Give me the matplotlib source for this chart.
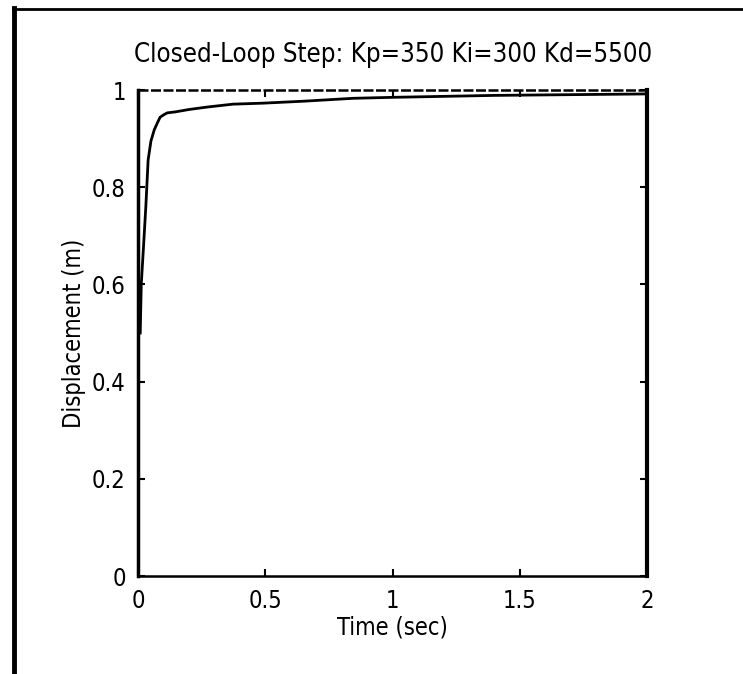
import matplotlib
matplotlib.use("Agg")
import matplotlib.pyplot as plt
from matplotlib.lines import Line2D
from matplotlib import font_manager

# Data
time_s = [0.008, 0.012, 0.02, 0.03, 0.039, 0.05, 0.063, 0.075, 0.086, 0.1, 0.114,
          0.145, 0.2, 0.271, 0.373, 0.49, 0.648, 0.845, 1.0, 1.2, 1.4, 1.6, 1.8, 2.0]
displacement = [0.50, 0.60, 0.67, 0.76, 0.856, 0.895, 0.918, 0.932, 0.944, 0.949, 0.953,
                0.955, 0.960, 0.965, 0.971, 0.973, 0.977, 0.983, 0.985, 0.987, 0.989, 0.990, 0.991, 0.992]
setpoint_t = [0.0, 2.0]
setpoint_y = [1.0, 1.0]
xticks = [0, 0.5, 1, 1.5, 2]
xtick_labels = ["0", "0.5", "1", "1.5", "2"]
yticks = [0, 0.2, 0.4, 0.6, 0.8, 1]
ytick_labels = ["0", "0.2", "0.4", "0.6", "0.8", "1"]
title = "Closed-Loop Step: Kp=350 Ki=300 Kd=5500"
xlabel = "Time (sec)"
ylabel = "Displacement (m)"

names = {f.name for f in font_manager.fontManager.ttflist}
fam = [n for n in ['Liberation Sans Narrow', 'DejaVu Sans Condensed', 'DejaVu Sans'] if n in names]
plt.rcParams['font.family'] = fam + ['DejaVu Sans']
plt.rcParams['font.stretch'] = 'condensed'

fig = plt.figure(figsize=(7.43, 6.74), dpi=100)
ax = fig.add_axes([0.186, 0.1454, 0.685, 0.721])

ax.plot(time_s, displacement, color="black", linewidth=2.0, solid_joinstyle="miter")
ax.plot(setpoint_t, setpoint_y, color="black", linewidth=1.8, linestyle=(0, (4, 1.0)),
        clip_on=False, zorder=5)

ax.set_xlim(0, 2)
ax.set_ylim(0, 1)
ax.set_xticks(xticks)
ax.set_xticklabels(xtick_labels)
ax.set_yticks(yticks)
ax.set_yticklabels(ytick_labels)
ax.tick_params(direction="in", length=5, width=1.5, top=True, right=True,
               labelsize=17, pad=9)
ax.spines['top'].set_visible(False)
ax.spines['left'].set_linewidth(2.5)
ax.spines['right'].set_linewidth(3.0)
ax.spines['bottom'].set_linewidth(1.8)

ax.set_title(title, fontsize=18.5, pad=20)
ax.set_xlabel(xlabel, fontsize=17, labelpad=2)
ax.set_ylabel(ylabel, fontsize=17, labelpad=4)

# outer frame lines (left and top)
fig.add_artist(Line2D([0.0195, 0.0195], [0.0, 0.988], transform=fig.transFigure,
                      color="black", linewidth=3.5))
fig.add_artist(Line2D([0.0175, 1.0], [0.986, 0.986], transform=fig.transFigure,
                      color="black", linewidth=2.0))

fig.savefig("out.png", dpi=100)
